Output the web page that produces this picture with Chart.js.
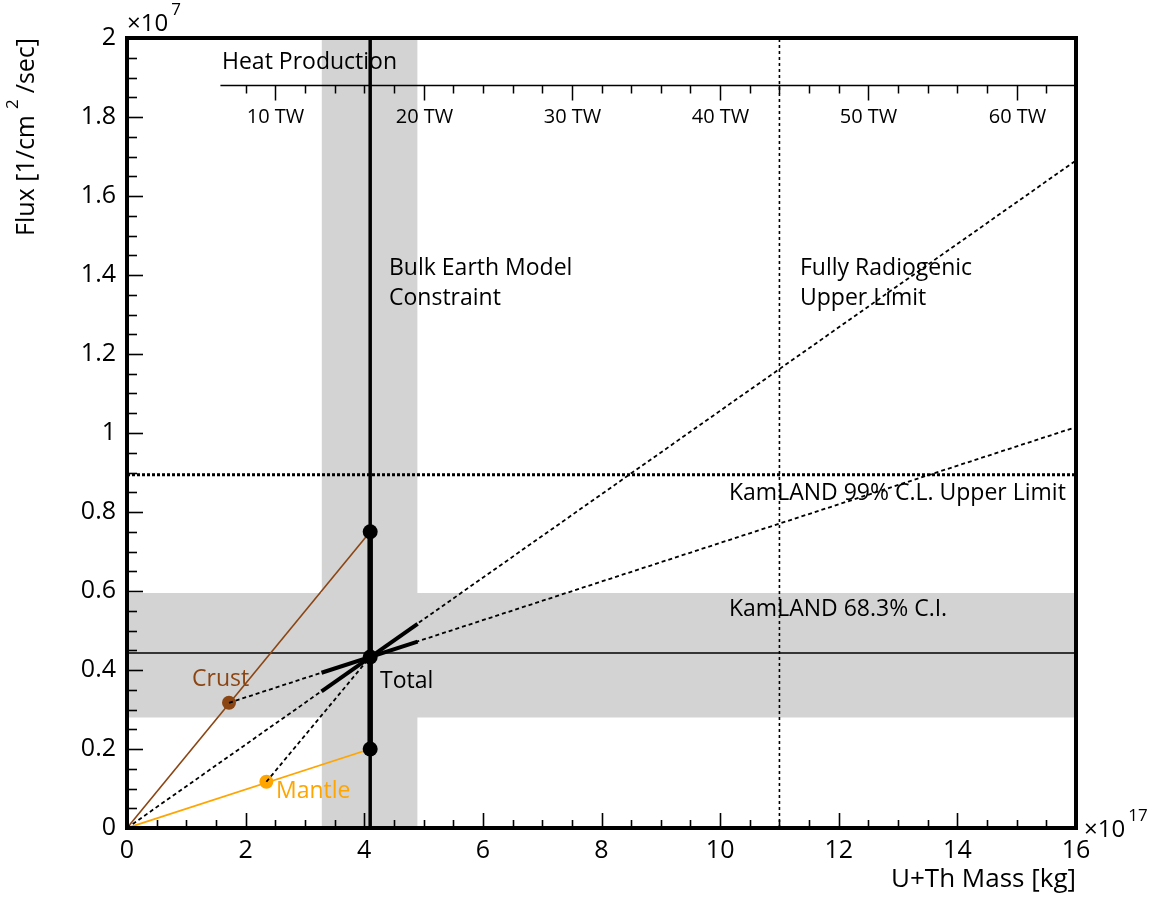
<!DOCTYPE html>
<html><head><meta charset="utf-8">
<script src="https://cdn.jsdelivr.net/npm/chart.js@4.4.1/dist/chart.umd.min.js"></script>
<style>html,body{margin:0;padding:0;background:#fff;overflow:hidden}</style>
</head><body>
<canvas id="c" width="1157" height="898"></canvas>
<script>
// ---------------- data ----------------
const xTickLabels = ['0','2','4','6','8','10','12','14','16'];
const yTickLabels = ['0','0.2','0.4','0.6','0.8','1','1.2','1.4','1.6','1.8','2'];
const pointNames = ['Crust','Mantle','Total','Bulk upper','Bulk lower'];
const pointMass  = [1.72, 2.35, 4.1, 4.1, 4.1];
const pointFlux  = [0.317, 0.117, 0.433, 0.75, 0.2];
const crustLineMass  = [0, 4.1];   const crustLineFlux  = [0, 0.75];
const mantleLineMass = [0, 4.1];   const mantleLineFlux = [0, 0.2];
const totalRayMass   = [0, 16];    const totalRayFlux   = [0, 1.69];
const crustRayMass   = [1.72, 16]; const crustRayFlux   = [0.317, 1.015];
const mantleRayMass  = [2.35, 4.1];const mantleRayFlux  = [0.117, 0.433];
const totalSegMass   = [3.28, 4.9];const totalSegFlux   = [0.346, 0.517];
const crustSegMass   = [3.28, 4.9];const crustSegFlux   = [0.393, 0.472];
const bulkBandMass   = [3.28, 4.9];
const bulkMass       = 4.1;
const bulkRangeFlux  = [0.2, 0.75];
const kamBandFlux    = [0.28, 0.595];
const kamBestFlux    = 0.443;
const kamUpperFlux   = 0.894;
const radiogenicMass = 11.0;
const heatMajorTW    = [10, 20, 30, 40, 50, 60];
const heatMinorTW    = [8,12,14,16,18,22,24,26,28,32,34,36,38,42,44,46,48,52,54,56,58,62];
const heatStartTW    = 6.3;
const twPerMass      = 4;   // TW per 1e17 kg

// ---------------- helpers ----------------
const FONT = '"Open Sans", sans-serif';
const BROWN = '#8B4513', ORANGE = '#FFA500', GRAY = '#d3d3d3';
const pts = (xs, ys) => xs.map((x, i) => ({x, y: ys[i]}));
const line = (data, o) => Object.assign({data, showLine: true, pointRadius: 0, borderColor: '#000', borderWidth: 1.5, fill: false}, o);
const pt = (i, color, r) => ({data: [{x: pointMass[i], y: pointFlux[i]}], showLine: false, pointRadius: r, pointHoverRadius: r, backgroundColor: color, borderWidth: 0});

const datasets = [
  pt(2, '#000', 7.5),
  pt(3, '#000', 7.5),
  pt(4, '#000', 7.5),
  line(pts(totalSegMass, totalSegFlux), {borderWidth: 4}),
  line(pts(crustSegMass, crustSegFlux), {borderWidth: 4}),
  line(pts(totalRayMass, totalRayFlux), {borderDash: [4, 3], borderWidth: 1.8}),
  line(pts(crustRayMass, crustRayFlux), {borderDash: [4, 3], borderWidth: 1.8}),
  line(pts(mantleRayMass, mantleRayFlux), {borderDash: [4, 3], borderWidth: 1.8}),
  pt(0, BROWN, 7),
  pt(1, ORANGE, 7),
  line(pts(crustLineMass, crustLineFlux), {borderColor: BROWN, borderWidth: 1.6}),
  line(pts(mantleLineMass, mantleLineFlux), {borderColor: ORANGE, borderWidth: 1.8}),
  line(pts([bulkMass, bulkMass], bulkRangeFlux), {borderWidth: 5.5}),
  line(pts([bulkMass, bulkMass], [0, 2]), {borderWidth: 3.5}),
  line(pts([0, 16], [kamBestFlux, kamBestFlux]), {borderWidth: 1.5}),
  line(pts([0, 16], [kamUpperFlux, kamUpperFlux]), {borderWidth: 3, borderDash: [3, 2]}),
  line(pts([radiogenicMass, radiogenicMass], [0, 2]), {borderWidth: 1.6, borderDash: [3, 3]}),
  line(pts([0, 16], [kamBandFlux[1], kamBandFlux[1]]), {borderWidth: 0, borderColor: 'rgba(0,0,0,0)', fill: {value: kamBandFlux[0]}, backgroundColor: GRAY}),
  line(pts([bulkBandMass[0], bulkBandMass[0], bulkBandMass[1], bulkBandMass[1]], [0, 2, 2, 0]), {borderWidth: 0, borderColor: 'rgba(0,0,0,0)', fill: 'origin', backgroundColor: GRAY, tension: 0})
];

const near = (v, step) => Math.abs(v / step - Math.round(v / step)) < 1e-6;

function drawSup(ctx, x, y, base, sup) {
  ctx.textAlign = 'left'; ctx.textBaseline = 'middle';
  ctx.font = '24px ' + FONT; const wb = ctx.measureText(base).width;
  ctx.fillText(base, x, y);
  ctx.font = '17px ' + FONT; ctx.fillText(sup, x + wb + 3, y - 14);
}

const decor = {
  id: 'decor',
  afterDatasetsDraw(chart) {
    const ctx = chart.ctx, a = chart.chartArea, xs = chart.scales.x, ys = chart.scales.y;
    ctx.save();
    ctx.strokeStyle = '#000'; ctx.fillStyle = '#000';
    // inward ticks
    ctx.lineWidth = 1.6;
    xs.ticks.forEach(t => {
      const px = Math.round(xs.getPixelForValue(t.value)) + 0.5, len = near(t.value, 2) ? 15 : 8;
      ctx.beginPath(); ctx.moveTo(px, a.bottom); ctx.lineTo(px, a.bottom - len); ctx.stroke();
    });
    ys.ticks.forEach(t => {
      const py = Math.round(ys.getPixelForValue(t.value)) + 0.5, len = near(t.value, 0.2) ? 16 : 10;
      ctx.beginPath(); ctx.moveTo(a.left, py); ctx.lineTo(a.left + len, py); ctx.stroke();
    });
    // heat production axis
    const hy = 85.5;
    ctx.lineWidth = 1.5;
    ctx.beginPath(); ctx.moveTo(xs.getPixelForValue(heatStartTW / twPerMass), hy); ctx.lineTo(a.right, hy); ctx.stroke();
    heatMinorTW.forEach(tw => {
      const px = Math.round(xs.getPixelForValue(tw / twPerMass)) + 0.5;
      ctx.beginPath(); ctx.moveTo(px, hy); ctx.lineTo(px, hy + 8); ctx.stroke();
    });
    ctx.font = '20px ' + FONT; ctx.textAlign = 'center'; ctx.textBaseline = 'middle';
    heatMajorTW.forEach(tw => {
      const px = Math.round(xs.getPixelForValue(tw / twPerMass)) + 0.5;
      ctx.beginPath(); ctx.moveTo(px, hy); ctx.lineTo(px, hy + 15); ctx.stroke();
      ctx.fillText(tw + ' TW', px, 117);
    });
    // annotation texts
    ctx.textAlign = 'left';
    ctx.font = '23px ' + FONT;
    ctx.fillText('Heat Production', 222, 62);
    ctx.fillText('Bulk Earth Model', 389, 268);
    ctx.fillText('Constraint', 389, 298);
    ctx.fillText('Fully Radiogenic', 800, 268);
    ctx.fillText('Upper Limit', 800, 298);
    ctx.fillText('KamLAND 99% C.L. Upper Limit', 729, 493);
    ctx.fillText('KamLAND 68.3% C.I.', 729, 609);
    ctx.fillText('Total', 380, 681);
    ctx.fillStyle = BROWN; ctx.fillText('Crust', 192, 679);
    ctx.fillStyle = ORANGE; ctx.fillText('Mantle', 276, 791);
    ctx.restore();
  },
  afterDraw(chart) {
    const ctx = chart.ctx, a = chart.chartArea;
    ctx.save();
    ctx.strokeStyle = '#000'; ctx.fillStyle = '#000';
    ctx.lineWidth = 4;
    ctx.strokeRect(a.left, a.top, a.right - a.left, a.bottom - a.top);
    // exponents
    drawSup(ctx, a.left, 24, '\u00d710', '7');
    drawSup(ctx, a.right + 8, 830, '\u00d710', '17');
    // x title
    ctx.font = '26px ' + FONT; ctx.textAlign = 'right'; ctx.textBaseline = 'middle';
    ctx.fillText('U+Th Mass [kg]', a.right, 880);
    // y title (rotated, with superscript)
    const p1 = 'Flux [1/cm', p2 = '2', p3 = '/sec]', gap = 6;
    ctx.font = '25px ' + FONT; const w1 = ctx.measureText(p1).width, w3 = ctx.measureText(p3).width;
    ctx.font = '17px ' + FONT; const w2 = ctx.measureText(p2).width;
    const total = w1 + gap + w2 + gap + w3;
    ctx.translate(27, a.top + total);
    ctx.rotate(-Math.PI / 2);
    ctx.textAlign = 'left';
    ctx.font = '25px ' + FONT; ctx.fillText(p1, 0, 0);
    ctx.font = '17px ' + FONT; ctx.fillText(p2, w1 + gap, -14);
    ctx.font = '25px ' + FONT; ctx.fillText(p3, w1 + gap + w2 + gap, 0);
    ctx.restore();
  }
};

new Chart(document.getElementById('c'), {
  type: 'scatter',
  data: {datasets},
  options: {
    responsive: false, animation: false, devicePixelRatio: 1,
    layout: {padding: {left: 0, right: 81, top: 38, bottom: 0}},
    plugins: {legend: {display: false}, tooltip: {enabled: false}},
    events: [],
    scales: {
      x: {
        type: 'linear', min: 0, max: 16,
        grid: {display: false, drawTicks: false}, border: {display: false},
        ticks: {stepSize: 0.5, autoSkip: false, maxRotation: 0, padding: 8, color: '#000',
          font: {family: FONT, size: 25},
          callback: v => near(v, 2) ? xTickLabels[Math.round(v / 2)] : ''},
        afterFit: s => { s.height = 70; }
      },
      y: {
        type: 'linear', min: 0, max: 2,
        grid: {display: false, drawTicks: false}, border: {display: false},
        ticks: {stepSize: 0.05, autoSkip: false, padding: 11, color: '#000',
          font: {family: FONT, size: 25},
          callback: v => near(v, 0.2) ? yTickLabels[Math.round(v / 0.2)] : ''},
        afterFit: s => { s.width = 127; }
      }
    }
  },
  plugins: [decor]
});
</script>
</body></html>
